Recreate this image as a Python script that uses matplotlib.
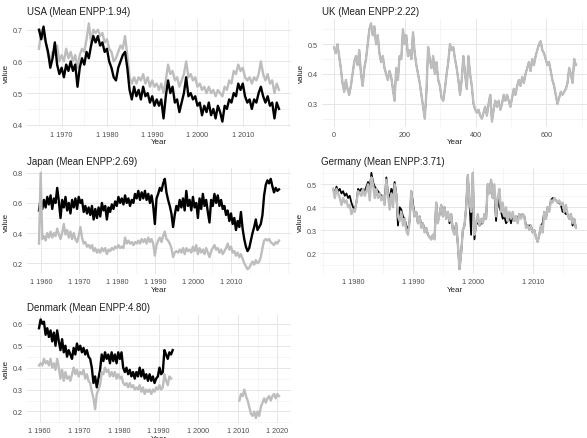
import matplotlib.pyplot as plt
from matplotlib.ticker import AutoMinorLocator, FuncFormatter
import numpy as np

plt.rcParams['font.family'] = ['Liberation Sans', 'DejaVu Sans']

# USA, half-year steps 1965-2018
usa_years = (1965.0, 2018.0)
usa_black = [0.70, 0.67, 0.71, 0.66, 0.63, 0.58, 0.61, 0.66, 0.59, 0.56,
             0.58, 0.55, 0.59, 0.57, 0.60, 0.57, 0.59, 0.52, 0.58, 0.61,
             0.59, 0.63, 0.61, 0.65, 0.68, 0.66, 0.68, 0.65, 0.66, 0.63,
             0.64, 0.60, 0.58, 0.55, 0.54, 0.58, 0.60, 0.62, 0.63, 0.58,
             0.51, 0.48, 0.52, 0.49, 0.51, 0.48, 0.52, 0.49, 0.50, 0.47,
             0.49, 0.46, 0.48, 0.46, 0.48, 0.42, 0.49, 0.54, 0.50, 0.52,
             0.47, 0.48, 0.44, 0.47, 0.50, 0.55, 0.49, 0.50, 0.48, 0.49,
             0.46, 0.47, 0.43, 0.46, 0.44, 0.47, 0.43, 0.45, 0.42, 0.46,
             0.44, 0.41, 0.46, 0.45, 0.48, 0.47, 0.50, 0.49, 0.53, 0.51,
             0.53, 0.49, 0.47, 0.48, 0.45, 0.48, 0.47, 0.50, 0.52, 0.49,
             0.47, 0.49, 0.46, 0.47, 0.42, 0.47, 0.45]
usa_gray = [0.64, 0.70, 0.68, 0.66, 0.62, 0.60, 0.63, 0.62, 0.65, 0.60,
            0.62, 0.60, 0.64, 0.61, 0.63, 0.60, 0.62, 0.58, 0.62, 0.64,
            0.63, 0.67, 0.72, 0.66, 0.70, 0.69, 0.70, 0.68, 0.69, 0.66,
            0.67, 0.64, 0.63, 0.60, 0.61, 0.63, 0.65, 0.64, 0.68, 0.62,
            0.55, 0.53, 0.55, 0.53, 0.55, 0.54, 0.56, 0.53, 0.55, 0.52,
            0.54, 0.52, 0.53, 0.51, 0.53, 0.50, 0.54, 0.59, 0.56, 0.57,
            0.54, 0.55, 0.52, 0.54, 0.56, 0.60, 0.55, 0.56, 0.54, 0.55,
            0.52, 0.53, 0.51, 0.52, 0.50, 0.52, 0.50, 0.51, 0.49, 0.51,
            0.50, 0.49, 0.52, 0.51, 0.54, 0.53, 0.57, 0.56, 0.59, 0.57,
            0.58, 0.55, 0.54, 0.55, 0.53, 0.55, 0.54, 0.56, 0.60, 0.56,
            0.54, 0.56, 0.53, 0.54, 0.50, 0.53, 0.51]

# UK, indexed observations
uk_range = (0, 684)
uk_gray = [0.49, 0.47, 0.50, 0.46, 0.42, 0.37, 0.34, 0.38, 0.35, 0.33,
           0.36, 0.40, 0.44, 0.46, 0.43, 0.48, 0.40, 0.36, 0.42, 0.45,
           0.50, 0.55, 0.57, 0.53, 0.56, 0.50, 0.53, 0.47, 0.44, 0.46,
           0.42, 0.40, 0.38, 0.41, 0.39, 0.35, 0.31, 0.42, 0.38, 0.46,
           0.45, 0.55, 0.50, 0.53, 0.46, 0.48, 0.45, 0.54, 0.47, 0.43,
           0.40, 0.37, 0.33, 0.29, 0.25, 0.34, 0.49, 0.45, 0.42, 0.46,
           0.40, 0.44, 0.38, 0.36, 0.32, 0.31, 0.35, 0.40, 0.44, 0.50,
           0.48, 0.49, 0.45, 0.42, 0.38, 0.33, 0.38, 0.46, 0.40, 0.35,
           0.46, 0.40, 0.36, 0.30, 0.28, 0.27, 0.28, 0.26, 0.25, 0.27,
           0.29, 0.26, 0.30, 0.33, 0.24, 0.28, 0.31, 0.29, 0.31, 0.28,
           0.30, 0.33, 0.31, 0.33, 0.31, 0.29, 0.32, 0.35, 0.33, 0.36,
           0.38, 0.36, 0.39, 0.37, 0.40, 0.42, 0.44, 0.41, 0.45, 0.43,
           0.46, 0.48, 0.50, 0.51, 0.48, 0.47, 0.45, 0.43, 0.44, 0.41,
           0.38, 0.36, 0.33, 0.30, 0.32, 0.34, 0.33, 0.34, 0.35, 0.37,
           0.42, 0.40, 0.37, 0.45, 0.43]
uk_black = uk_gray

# Japan
japan_years = (1959.4, 2022.65)
japan_black = [0.55, 0.63, 0.56, 0.62, 0.57, 0.64, 0.59, 0.65, 0.56, 0.63,
               0.60, 0.70, 0.61, 0.50, 0.62, 0.57, 0.64, 0.55, 0.60, 0.53,
               0.62, 0.57, 0.63, 0.56, 0.64, 0.60, 0.62, 0.54, 0.58, 0.53,
               0.57, 0.52, 0.58, 0.49, 0.56, 0.50, 0.57, 0.51, 0.60, 0.55,
               0.58, 0.49, 0.57, 0.54, 0.59, 0.56, 0.61, 0.58, 0.64, 0.60,
               0.63, 0.59, 0.65, 0.60, 0.63, 0.58, 0.62, 0.60, 0.66, 0.63,
               0.68, 0.62, 0.67, 0.63, 0.68, 0.62, 0.66, 0.60, 0.65, 0.58,
               0.46, 0.63, 0.66, 0.70, 0.68, 0.73, 0.76, 0.67, 0.62, 0.58,
               0.53, 0.44, 0.52, 0.58, 0.55, 0.62, 0.57, 0.63, 0.55, 0.68,
               0.58, 0.62, 0.55, 0.64, 0.57, 0.60, 0.50, 0.63, 0.56, 0.66,
               0.58, 0.62, 0.54, 0.47, 0.62, 0.58, 0.66, 0.60, 0.65, 0.58,
               0.62, 0.56, 0.58, 0.52, 0.55, 0.48, 0.53, 0.46, 0.50, 0.42,
               0.48, 0.44, 0.54, 0.43, 0.36, 0.31, 0.28, 0.30, 0.35, 0.40,
               0.44, 0.49, 0.42, 0.44, 0.46, 0.52, 0.65, 0.72, 0.75, 0.73,
               0.76, 0.71, 0.67, 0.70, 0.68, 0.69]
japan_gray = [0.33, 0.80, 0.36, 0.38, 0.35, 0.40, 0.37, 0.41, 0.37, 0.40,
              0.38, 0.43, 0.39, 0.36, 0.40, 0.46, 0.39, 0.42, 0.37, 0.41,
              0.36, 0.40, 0.36, 0.34, 0.38, 0.44, 0.37, 0.33, 0.34, 0.31,
              0.32, 0.30, 0.32, 0.28, 0.30, 0.27, 0.29, 0.27, 0.30, 0.28,
              0.30, 0.26, 0.29, 0.28, 0.30, 0.29, 0.31, 0.30, 0.32, 0.30,
              0.31, 0.30, 0.37, 0.33, 0.35, 0.33, 0.34, 0.32, 0.34, 0.33,
              0.35, 0.33, 0.36, 0.34, 0.36, 0.33, 0.37, 0.34, 0.36, 0.33,
              0.25, 0.32, 0.35, 0.37, 0.34, 0.38, 0.41, 0.36, 0.35, 0.33,
              0.30, 0.24, 0.27, 0.28, 0.27, 0.29, 0.27, 0.30, 0.26, 0.30,
              0.28, 0.29, 0.27, 0.31, 0.28, 0.32, 0.26, 0.30, 0.27, 0.29,
              0.26, 0.30, 0.27, 0.24, 0.28, 0.30, 0.32, 0.29, 0.30, 0.27,
              0.29, 0.26, 0.28, 0.30, 0.33, 0.29, 0.31, 0.27, 0.28, 0.25,
              0.27, 0.24, 0.26, 0.23, 0.20, 0.18, 0.16, 0.17, 0.19, 0.21,
              0.19, 0.22, 0.20, 0.21, 0.24, 0.30, 0.35, 0.36, 0.35, 0.36,
              0.34, 0.33, 0.32, 0.34, 0.33, 0.35]

# Germany
germany_years = (1976.67, 2017.22)
germany_black = [0.48, 0.46, 0.49, 0.47, 0.48, 0.46, 0.47, 0.45, 0.46, 0.44,
                 0.45, 0.42, 0.40, 0.39, 0.42, 0.48, 0.47, 0.48, 0.48, 0.47,
                 0.49, 0.51, 0.48, 0.55, 0.51, 0.49, 0.48, 0.47, 0.46, 0.45,
                 0.45, 0.43, 0.53, 0.46, 0.44, 0.48, 0.46, 0.51, 0.46, 0.32,
                 0.40, 0.39, 0.36, 0.35, 0.32, 0.30, 0.34, 0.47, 0.42, 0.36,
                 0.38, 0.33, 0.36, 0.32, 0.33, 0.30, 0.31, 0.28, 0.27, 0.26,
                 0.28, 0.27, 0.42, 0.34, 0.37, 0.41, 0.36, 0.40, 0.35, 0.38,
                 0.33, 0.37, 0.30, 0.29, 0.33, 0.24, 0.13, 0.20, 0.30, 0.32,
                 0.40, 0.54, 0.42, 0.28, 0.55, 0.26, 0.33, 0.33, 0.32, 0.33,
                 0.33, 0.37, 0.35, 0.50, 0.46, 0.52, 0.44, 0.46, 0.34, 0.44,
                 0.40, 0.38, 0.35, 0.36, 0.33, 0.34, 0.36, 0.33, 0.37, 0.34,
                 0.36, 0.35, 0.37, 0.36, 0.37, 0.36, 0.32, 0.32, 0.32, 0.32,
                 0.29, 0.30, 0.27, 0.25, 0.28, 0.32, 0.33, 0.38, 0.35, 0.40,
                 0.39, 0.43, 0.44, 0.44, 0.43, 0.42, 0.42, 0.41, 0.38, 0.38,
                 0.37, 0.37, 0.35, 0.37, 0.32, 0.35, 0.31]
germany_gray = [0.48, 0.44, 0.48, 0.46, 0.44, 0.41, 0.44, 0.42, 0.43, 0.40,
                0.41, 0.37, 0.39, 0.38, 0.42, 0.47, 0.46, 0.45, 0.48, 0.45,
                0.47, 0.50, 0.43, 0.53, 0.50, 0.44, 0.48, 0.44, 0.46, 0.43,
                0.45, 0.41, 0.52, 0.45, 0.39, 0.46, 0.40, 0.50, 0.45, 0.36,
                0.34, 0.38, 0.32, 0.35, 0.30, 0.28, 0.34, 0.47, 0.40, 0.36,
                0.38, 0.33, 0.36, 0.31, 0.33, 0.29, 0.31, 0.28, 0.27, 0.26,
                0.28, 0.26, 0.42, 0.33, 0.37, 0.41, 0.36, 0.40, 0.35, 0.38,
                0.34, 0.37, 0.30, 0.28, 0.33, 0.24, 0.13, 0.20, 0.30, 0.32,
                0.40, 0.54, 0.42, 0.38, 0.55, 0.28, 0.33, 0.37, 0.32, 0.35,
                0.33, 0.37, 0.35, 0.50, 0.46, 0.52, 0.44, 0.50, 0.36, 0.44,
                0.48, 0.38, 0.42, 0.36, 0.40, 0.34, 0.38, 0.35, 0.38, 0.34,
                0.36, 0.33, 0.37, 0.35, 0.37, 0.36, 0.31, 0.32, 0.30, 0.32,
                0.29, 0.30, 0.27, 0.25, 0.28, 0.32, 0.29, 0.38, 0.35, 0.40,
                0.38, 0.43, 0.42, 0.44, 0.43, 0.42, 0.43, 0.41, 0.42, 0.38,
                0.41, 0.37, 0.35, 0.37, 0.33, 0.35, 0.31]

# Denmark, with a gap in the gray series
denmark_black_years = (1959.83, 1993.58)
denmark_black = [0.58, 0.62, 0.60, 0.61, 0.55, 0.58, 0.54, 0.57, 0.52, 0.56,
                 0.50, 0.57, 0.52, 0.48, 0.53, 0.47, 0.50, 0.45, 0.48, 0.46,
                 0.44, 0.49, 0.46, 0.51, 0.48, 0.50, 0.47, 0.49, 0.46, 0.48,
                 0.45, 0.44, 0.40, 0.33, 0.36, 0.31, 0.35, 0.39, 0.46, 0.43,
                 0.47, 0.44, 0.46, 0.42, 0.47, 0.43, 0.46, 0.42, 0.47, 0.44,
                 0.47, 0.40, 0.38, 0.40, 0.37, 0.39, 0.36, 0.38, 0.35, 0.38,
                 0.36, 0.40, 0.36, 0.39, 0.35, 0.37, 0.34, 0.37, 0.34, 0.36,
                 0.33, 0.35, 0.36, 0.40, 0.37, 0.38, 0.48, 0.46, 0.44, 0.47,
                 0.46, 0.48]
denmark_gray_years = (1959.83, 1993.17)
denmark_gray = [0.41, 0.42, 0.41, 0.44, 0.42, 0.43, 0.41, 0.44, 0.40, 0.42,
                0.39, 0.44, 0.40, 0.35, 0.39, 0.34, 0.38, 0.35, 0.36, 0.34,
                0.37, 0.40, 0.37, 0.39, 0.36, 0.38, 0.37, 0.39, 0.35, 0.37,
                0.34, 0.33, 0.29, 0.26, 0.21, 0.28, 0.30, 0.32, 0.38, 0.37,
                0.40, 0.38, 0.39, 0.36, 0.38, 0.36, 0.38, 0.35, 0.37, 0.35,
                0.36, 0.33, 0.32, 0.33, 0.31, 0.33, 0.31, 0.32, 0.30, 0.31,
                0.30, 0.32, 0.29, 0.31, 0.28, 0.30, 0.29, 0.30, 0.28, 0.30,
                0.29, 0.31, 0.30, 0.32, 0.30, 0.31, 0.37, 0.34, 0.32, 0.36,
                0.35]
denmark_late_years = (2010.42, 2020.42)
denmark_gray_late = [0.25, 0.28, 0.27, 0.30, 0.27, 0.25, 0.22, 0.19, 0.18, 0.20,
                     0.17, 0.20, 0.18, 0.22, 0.24, 0.26, 0.24, 0.26, 0.27, 0.25,
                     0.27, 0.28, 0.26, 0.28, 0.27]

titles = ['USA (Mean ENPP:1.94)', 'UK (Mean ENPP:2.22)', 'Japan (Mean ENPP:2.69)',
          'Germany (Mean ENPP:3.71)', 'Denmark (Mean ENPP:4.80)']

BLACK = 'black'
GRAY = '#BDBDBD'
LW = 1.7

W, H = 587, 439
fig = plt.figure(figsize=(W / 100, H / 100), dpi=100)


def panel(left, top, right, bottom):
    return fig.add_axes([left / W, 1 - bottom / H, (right - left) / W, (bottom - top) / H])


def style(ax, title, xticks, yticks, year_labels=True):
    ax.set_title(title, loc='left', fontsize=7, color='#1f1f1f', pad=3)
    ax.set_xticks(xticks)
    ax.set_yticks(yticks)
    if year_labels:
        ax.xaxis.set_major_formatter(FuncFormatter(lambda v, p: '1 %d' % v))
    ax.yaxis.set_major_formatter(FuncFormatter(lambda v, p: '%.1f' % v))
    ax.xaxis.set_minor_locator(AutoMinorLocator(2))
    ax.yaxis.set_minor_locator(AutoMinorLocator(2))
    ax.grid(which='major', color='#E6E6E6', lw=0.7)
    ax.grid(which='minor', color='#F0F0F0', lw=0.45)
    ax.set_axisbelow(True)
    for s in ax.spines.values():
        s.set_visible(False)
    ax.tick_params(which='both', length=0, labelsize=5.2, labelcolor='#4D4D4D', pad=3)
    ax.set_xlabel('Year', fontsize=5.8, color='#1f1f1f', labelpad=0.5)
    ax.set_ylabel('value', fontsize=5.8, color='#1f1f1f', labelpad=2)


def series(span, vals):
    return np.linspace(span[0], span[1], len(vals))


# USA
ax = panel(27, 19.5, 291, 127.5)
ax.plot(series(usa_years, usa_black), usa_black, color=BLACK, lw=LW)
ax.plot(series(usa_years, usa_gray), usa_gray, color=GRAY, lw=LW, zorder=1.9)
style(ax, titles[0], [1970, 1980, 1990, 2000, 2010], [0.4, 0.5, 0.6, 0.7])

# UK: the black series sits under the gray one
ax = panel(322, 19.5, 588, 127.5)
ax.plot(series(uk_range, uk_black), uk_black, color=BLACK, lw=LW * 0.6)
ax.plot(series(uk_range, uk_gray), uk_gray, color=GRAY, lw=LW)
style(ax, titles[1], [0, 200, 400, 600], [0.3, 0.4, 0.5], year_labels=False)

# Japan
ax = panel(27, 169, 291, 275)
ax.plot(series(japan_years, japan_black), japan_black, color=BLACK, lw=LW)
ax.plot(series(japan_years, japan_gray), japan_gray, color=GRAY, lw=LW)
style(ax, titles[2], [1960, 1970, 1980, 1990, 2000, 2010], [0.2, 0.4, 0.6, 0.8])

# Germany
ax = panel(321, 169, 588, 275)
ax.plot(series(germany_years, germany_black), germany_black, color=BLACK, lw=LW * 0.75)
ax.plot(series(germany_years, germany_gray), germany_gray, color=GRAY, lw=LW)
style(ax, titles[3], [1980, 1990, 2000, 2010], [0.2, 0.3, 0.4, 0.5])

# Denmark
ax = panel(27, 315.5, 291, 424)
ax.plot(series(denmark_black_years, denmark_black), denmark_black, color=BLACK, lw=LW)
ax.plot(series(denmark_gray_years, denmark_gray), denmark_gray, color=GRAY, lw=LW)
ax.plot(series(denmark_late_years, denmark_gray_late), denmark_gray_late, color=GRAY, lw=LW)
style(ax, titles[4], [1960, 1970, 1980, 1990, 2000, 2010, 2020], [0.2, 0.3, 0.4, 0.5, 0.6])

fig.savefig('out.png', dpi=100, facecolor='white')
